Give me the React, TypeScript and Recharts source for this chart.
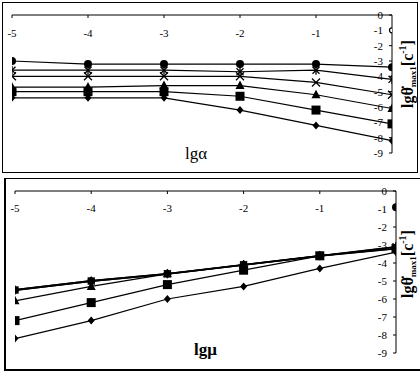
import { LineChart, Line, XAxis, YAxis } from 'recharts';

// shared x positions (lg of parameter)
const xs = [-5, -4, -3, -2, -1, 0];
const xTicks = [-5, -4, -3, -2, -1];
const yTicks = [0, -1, -2, -3, -4, -5, -6, -7, -8, -9];

// top panel: lg alpha
const alphaCircle = [-3.0, -3.2, -3.2, -3.2, -3.2, -3.4];
const alphaStar = [-3.6, -3.6, -3.6, -3.7, -3.6, -4.2];
const alphaCross = [-4.0, -4.0, -4.0, -4.0, -4.4, -5.2];
const alphaTriangle = [-4.7, -4.7, -4.6, -4.6, -5.2, -6.1];
const alphaSquare = [-5.0, -5.0, -5.0, -5.3, -6.2, -7.1];
const alphaDiamond = [-5.4, -5.4, -5.4, -6.2, -7.2, -8.2];

// bottom panel: lg mu
const muCircle = [-5.5, -5.0, -4.6, -4.1, -3.6, -3.2];
const muStar = [-5.5, -5.0, -4.6, -4.1, -3.6, -3.1];
const muTriangle = [-6.1, -5.3, -4.6, -4.1, -3.6, -3.1];
const muSquare = [-7.2, -6.2, -5.2, -4.4, -3.6, -3.2];
const muDiamond = [-8.2, -7.2, -6.0, -5.3, -4.3, -3.4];

// stray marks sitting on the y axis at x = 0
const alphaStray = [null, null, null, null, null, -1.0];
const muStray = [null, null, null, null, null, -0.9];

const build = (cols: Record<string, (number | null)[]>) =>
  xs.map((x, i) => {
    const row: Record<string, number | null> = { x };
    Object.keys(cols).forEach((k) => (row[k] = cols[k][i]));
    return row;
  });

const topData = build({
  circle: alphaCircle,
  star: alphaStar,
  cross: alphaCross,
  triangle: alphaTriangle,
  square: alphaSquare,
  diamond: alphaDiamond,
  stray: alphaStray,
});

const bottomData = build({
  circle: muCircle,
  star: muStar,
  triangle: muTriangle,
  square: muSquare,
  diamond: muDiamond,
  stray: muStray,
});

const FONT = '"Liberation Serif", "DejaVu Serif", serif';

type Kind = 'circle' | 'star' | 'cross' | 'triangle' | 'square' | 'diamond' | 'open';

function marker(kind: Kind) {
  return (p: any) => {
    const { cx, cy, index } = p;
    if (cx == null || cy == null || p.value == null) return <g key={index} />;
    switch (kind) {
      case 'circle':
        return <circle key={index} cx={cx} cy={cy} r={4} fill="#000" />;
      case 'open':
        return <circle key={index} cx={cx} cy={cy} r={2.5} fill="#fff" stroke="#000" strokeWidth={1.2} />;
      case 'star':
        return (
          <g key={index} stroke="#000" strokeWidth={1.3}>
            <line x1={cx - 3.5} y1={cy - 3.5} x2={cx + 3.5} y2={cy + 3.5} />
            <line x1={cx - 3.5} y1={cy + 3.5} x2={cx + 3.5} y2={cy - 3.5} />
            <line x1={cx} y1={cy - 4.5} x2={cx} y2={cy + 4.5} />
          </g>
        );
      case 'cross':
        return (
          <g key={index} stroke="#000" strokeWidth={1.3}>
            <line x1={cx - 4} y1={cy - 4} x2={cx + 4} y2={cy + 4} />
            <line x1={cx - 4} y1={cy + 4} x2={cx + 4} y2={cy - 4} />
          </g>
        );
      case 'triangle':
        return <path key={index} d={`M${cx},${cy - 5}L${cx + 4.5},${cy + 3.5}L${cx - 4.5},${cy + 3.5}Z`} fill="#000" />;
      case 'square':
        return <rect key={index} x={cx - 4.5} y={cy - 4.5} width={9} height={9} fill="#000" />;
      default:
        return <path key={index} d={`M${cx},${cy - 4}L${cx + 3.5},${cy}L${cx},${cy + 4}L${cx - 3.5},${cy}Z`} fill="#000" />;
    }
  };
}

const tickStyle = { fill: '#000', fontSize: 11, fontFamily: FONT };

function YTitle({ left, top }: { left: number; top: number }) {
  return (
    <svg width={24} height={120} style={{ position: 'absolute', left, top }}>
      <text
        transform="translate(17,60) rotate(-90)"
        textAnchor="middle"
        fontFamily={FONT}
        fontWeight="bold"
        fontSize={16}
        fill="#000"
      >
        lgθ̇
        <tspan fontSize={9} dy={3}>max1</tspan>
        <tspan dy={-3}>[c</tspan>
        <tspan fontSize={10} dy={-7}>-1</tspan>
        <tspan dy={7}>]</tspan>
      </text>
    </svg>
  );
}

export default function App() {
  const lineProps = { type: 'linear' as const, stroke: '#000', strokeWidth: 1.2, isAnimationActive: false };
  return (
    <div style={{ position: 'absolute', left: 0, top: 0, width: 420, height: 374, background: '#fff', overflow: 'hidden' }}>
      {/* top panel frame */}
      <div style={{ position: 'absolute', left: 2, top: 2, width: 414, height: 169, border: '1.5px solid #000' }} />
      {/* bottom panel frame */}
      <div style={{ position: 'absolute', left: 4, top: 178, width: 416, height: 190, border: '1.5px solid #000', borderLeftWidth: 2, borderBottomWidth: 2 }} />

      <div style={{ position: 'absolute', left: 0, top: 0 }}>
        <LineChart width={420} height={176} data={topData} margin={{ top: 15, right: 28, bottom: 23, left: 12 }}>
          <XAxis dataKey="x" type="number" domain={[-5, 0]} ticks={xTicks} orientation="top" height={1} mirror
            tickSize={3} tickMargin={11} stroke="#000" tick={tickStyle} allowDataOverflow />
          <YAxis type="number" domain={[-9, 0]} ticks={yTicks} orientation="right" width={1} mirror
            tickSize={3} tickMargin={6} stroke="#000" tick={tickStyle} interval={0} />
          <Line {...lineProps} dataKey="circle" dot={marker('circle')} />
          <Line {...lineProps} dataKey="star" dot={marker('star')} />
          <Line {...lineProps} dataKey="cross" dot={marker('cross')} />
          <Line {...lineProps} dataKey="triangle" dot={marker('triangle')} />
          <Line {...lineProps} dataKey="square" dot={marker('square')} />
          <Line {...lineProps} dataKey="diamond" dot={marker('diamond')} />
          <Line {...lineProps} dataKey="stray" stroke="none" dot={marker('open')} />
        </LineChart>
      </div>

      <div style={{ position: 'absolute', left: 0, top: 178 }}>
        <LineChart width={420} height={196} data={bottomData} margin={{ top: 13, right: 24, bottom: 21, left: 15 }}>
          <XAxis dataKey="x" type="number" domain={[-5, 0]} ticks={xTicks} orientation="top" height={1} mirror
            tickSize={3} tickMargin={10} stroke="#000" tick={tickStyle} allowDataOverflow />
          <YAxis type="number" domain={[-9, 0]} ticks={yTicks} orientation="right" width={1} mirror
            tickSize={3} tickMargin={6} stroke="#000" tick={tickStyle} interval={0} />
          <Line {...lineProps} dataKey="circle" strokeWidth={1.8} dot={marker('circle')} />
          <Line {...lineProps} dataKey="star" strokeWidth={1.8} dot={marker('star')} />
          <Line {...lineProps} dataKey="triangle" dot={marker('triangle')} />
          <Line {...lineProps} dataKey="square" dot={marker('square')} />
          <Line {...lineProps} dataKey="diamond" dot={marker('diamond')} />
          <Line {...lineProps} dataKey="stray" stroke="none" dot={marker('circle')} />
        </LineChart>
      </div>

      <div style={{ position: 'absolute', left: 185, top: 144, fontFamily: FONT, fontSize: 17 }}>lgα</div>
      <div style={{ position: 'absolute', left: 194, top: 340, fontFamily: FONT, fontSize: 17, fontWeight: 'bold' }}>lgμ</div>

      <YTitle left={396} top={14} />
      <YTitle left={396} top={204} />
    </div>
  );
}
